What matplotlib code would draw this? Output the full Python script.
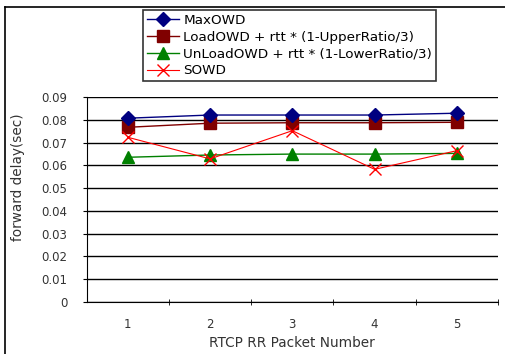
import matplotlib.pyplot as plt
from matplotlib.lines import Line2D

packets = [1, 2, 3, 4, 5]
max_owd = [0.0808, 0.0822, 0.0822, 0.0822, 0.0830]
load_owd = [0.0768, 0.0786, 0.0788, 0.0788, 0.0790]
unload_owd = [0.0636, 0.0646, 0.0650, 0.0650, 0.0653]
sowd = [0.0724, 0.0629, 0.0753, 0.0583, 0.0665]

labels = ["MaxOWD",
          "LoadOWD + rtt * (1-UpperRatio/3)",
          "UnLoadOWD + rtt * (1-LowerRatio/3)",
          "SOWD"]

plt.rcParams['font.family'] = ['DejaVu Sans']

fig = plt.figure(figsize=(5.05, 3.54), dpi=100)
ax = fig.add_axes([0.1717, 0.1477, 0.8143, 0.5774])

ax.plot(packets, max_owd, color='#000080', lw=1, marker='D', ms=7, label=labels[0], zorder=5)
ax.plot(packets, load_owd, color='#800000', lw=1, marker='s', ms=9, label=labels[1], zorder=4)
ax.plot(packets, unload_owd, color='#008000', lw=1, marker='^', ms=9, label=labels[2], zorder=4)
ax.plot(packets, sowd, color='#ff0000', lw=0.8, marker='x', ms=9, mew=1, label=labels[3], zorder=6)

ax.set_xlim(0.5, 5.5)
ax.set_ylim(0, 0.09)
ax.set_yticks([i * 0.01 for i in range(10)])
ax.set_yticklabels(['0'] + ['0.%02d' % i for i in range(1, 10)])
ax.set_xticks(packets)
ax.set_xticks([1.5, 2.5, 3.5, 4.5, 5.5], minor=True)
ax.tick_params(axis='x', which='major', length=0, pad=12, labelsize=8.5, colors='#333333')
ax.tick_params(axis='x', which='minor', length=4, direction='inout', color='black')
ax.tick_params(axis='y', length=3, labelsize=8.5, colors='#333333', pad=11)
ax.tick_params(axis='y', color='black')

ax.grid(axis='y', color='black', lw=1)
ax.set_axisbelow(True)
for s in ['top', 'right']:
    ax.spines[s].set_visible(False)

ax.set_xlabel("RTCP RR Packet Number", fontsize=9.8, color='#333333', labelpad=3)
ax.set_ylabel("forward delay(sec)", fontsize=9.8, color='#333333')
ax.yaxis.set_label_coords(-0.15, 0.607)

leg = fig.legend(loc='upper left', bbox_to_anchor=(143 / 505, 1 - 10 / 354),
                 fontsize=9.7, frameon=True, fancybox=False, framealpha=1,
                 handlelength=2.4, handletextpad=0.3, borderpad=0.3,
                 labelspacing=0.28, borderaxespad=0)
leg.get_frame().set_edgecolor('#333333')
leg.get_frame().set_linewidth(1.2)

# outer frame lines
fig.add_artist(Line2D([5 / 505, 5 / 505], [0, 1 - 7 / 354], color='black', lw=1.2))
fig.add_artist(Line2D([5 / 505, 1], [1 - 7 / 354, 1 - 7 / 354], color='black', lw=1.2))

fig.savefig('out.png', dpi=100)
